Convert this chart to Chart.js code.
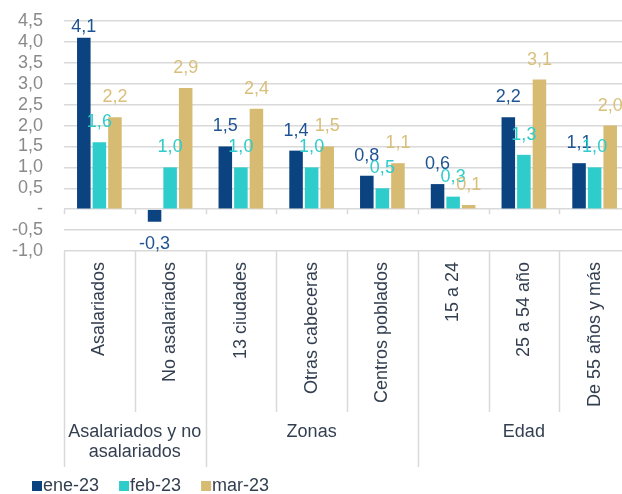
<!DOCTYPE html>
<html>
<head>
<meta charset="utf-8">
<script src="https://cdn.jsdelivr.net/npm/chart.js"></script>
<style>
  body { margin: 0; background: #fff; overflow: hidden; }
  #wrap { width: 622px; height: 494px; overflow: hidden; }
</style>
</head>
<body>
<div id="wrap"><canvas id="chart" width="632" height="494"></canvas></div>
<script>
// categories and groups
const categories = ['Asalariados', 'No asalariados', '13 ciudades', 'Otras cabeceras',
    'Centros poblados', '15 a 24', '25 a 54 año', 'De 55 años y más'];
const groups = [
    { lines: ['Asalariados y no', 'asalariados'], from: 0, to: 2 },
    { lines: ['Zonas'], from: 2, to: 5 },
    { lines: ['Edad'], from: 5, to: 8 }
];
const seriesNames = ['ene-23', 'feb-23', 'mar-23'];
const ene23 = [4.1, -0.3, 1.5, 1.4, 0.8, 0.6, 2.2, 1.1];
const feb23 = [1.6, 1.0, 1.0, 1.0, 0.5, 0.3, 1.3, 1.0];
const mar23 = [2.2, 2.9, 2.4, 1.5, 1.1, 0.1, 3.1, 2.0];
const yMin = -1.0, yMax = 4.5, yStep = 0.5;

const barColors = ['#0a4380', '#2ecdcb', '#d7bb73'];
const labelColors = ['#1f5494', '#2ecdcb', '#d8bf7a'];
const textColor = '#333f50';
const lineColor = '#d9d9d9';
const font = '18px "Liberation Sans", Arial, sans-serif';

function fmt(v) {
    return v.toFixed(1).replace('.', ',');
}

// value labels, category texts, group texts and legend
const decorations = {
    id: 'decorations',
    afterDatasetsDraw(chart) {
        const ctx = chart.ctx;
        const area = chart.chartArea;
        ctx.save();
        ctx.font = font;
        ctx.textAlign = 'center';
        ctx.textBaseline = 'middle';
        chart.data.datasets.forEach((ds, di) => {
            const meta = chart.getDatasetMeta(di);
            ctx.fillStyle = labelColors[di];
            meta.data.forEach((bar, i) => {
                const v = ds.data[i];
                let y = v >= 0 ? Math.max(bar.y - 20, area.top + 6) : bar.y + 22;
                ctx.fillText(fmt(v), bar.x, y);
            });
        });
        ctx.restore();
    },
    afterDraw(chart) {
        const ctx = chart.ctx;
        const area = chart.chartArea;
        const yScale = chart.scales.y;
        const n = categories.length;
        const w = (area.right - area.left) / n;
        const y0 = yScale.getPixelForValue(0);
        const groupEdges = groups.map(g => g.from).concat([n]);
        ctx.save();
        ctx.strokeStyle = lineColor;
        ctx.lineWidth = 1.5;
        for (let i = 0; i <= n; i++) {
            const bx = Math.round(area.left + i * w) + 0.5;
            // little ticks on the zero line
            ctx.beginPath();
            ctx.moveTo(bx, y0);
            ctx.lineTo(bx, y0 + 5);
            ctx.stroke();
            // separators under the plot
            const bottom = groupEdges.includes(i) ? area.bottom + 216 : area.bottom + 161;
            ctx.beginPath();
            ctx.moveTo(bx, area.bottom);
            ctx.lineTo(bx, bottom);
            ctx.stroke();
        }

        ctx.font = font;
        ctx.fillStyle = textColor;
        // rotated category names
        categories.forEach((c, i) => {
            const cx = chart.scales.x.getPixelForValue(i);
            ctx.save();
            ctx.translate(cx, area.bottom + 11);
            ctx.rotate(-Math.PI / 2);
            ctx.textAlign = 'right';
            ctx.textBaseline = 'middle';
            ctx.fillText(c, 0, 0);
            ctx.restore();
        });
        // group names
        ctx.textAlign = 'center';
        ctx.textBaseline = 'middle';
        groups.forEach(g => {
            const gx = area.left + (g.from + g.to) / 2 * w;
            g.lines.forEach((t, k) => ctx.fillText(t, gx, area.bottom + 181 + k * 20));
        });

        // legend
        let lx = 32;
        const ly = 486;
        ctx.textAlign = 'left';
        seriesNames.forEach((s, i) => {
            ctx.fillStyle = barColors[i];
            ctx.fillRect(lx, ly - 5, 10, 10);
            ctx.fillStyle = textColor;
            ctx.fillText(s, lx + 11, ly);
            lx += 11 + ctx.measureText(s).width + 20;
        });
        ctx.restore();
    }
};

new Chart(document.getElementById('chart'), {
    type: 'bar',
    data: {
        labels: categories,
        datasets: [ene23, feb23, mar23].map((d, i) => ({
            label: seriesNames[i],
            data: d,
            backgroundColor: barColors[i],
            categoryPercentage: 0.66,
            barPercentage: 0.87
        }))
    },
    options: {
        responsive: false,
        animation: false,
        layout: { padding: { top: 21, bottom: 243, left: 0, right: 2 } },
        plugins: {
            legend: { display: false },
            tooltip: { enabled: false }
        },
        scales: {
            x: { display: false },
            y: {
                min: yMin,
                max: yMax,
                afterFit(s) {
                    s.width = 64;
                    s.paddingTop = 0;
                    s.paddingBottom = 0;
                },
                border: { display: false },
                grid: { color: lineColor, lineWidth: 1.5, drawTicks: false },
                ticks: {
                    stepSize: yStep,
                    autoSkip: false,
                    padding: 21,
                    color: '#8a8a8a',
                    font: { family: '"Liberation Sans", Arial, sans-serif', size: 18 },
                    callback: v => v === 0 ? '-' : fmt(v)
                }
            }
        }
    },
    plugins: [decorations]
});
</script>
</body>
</html>
